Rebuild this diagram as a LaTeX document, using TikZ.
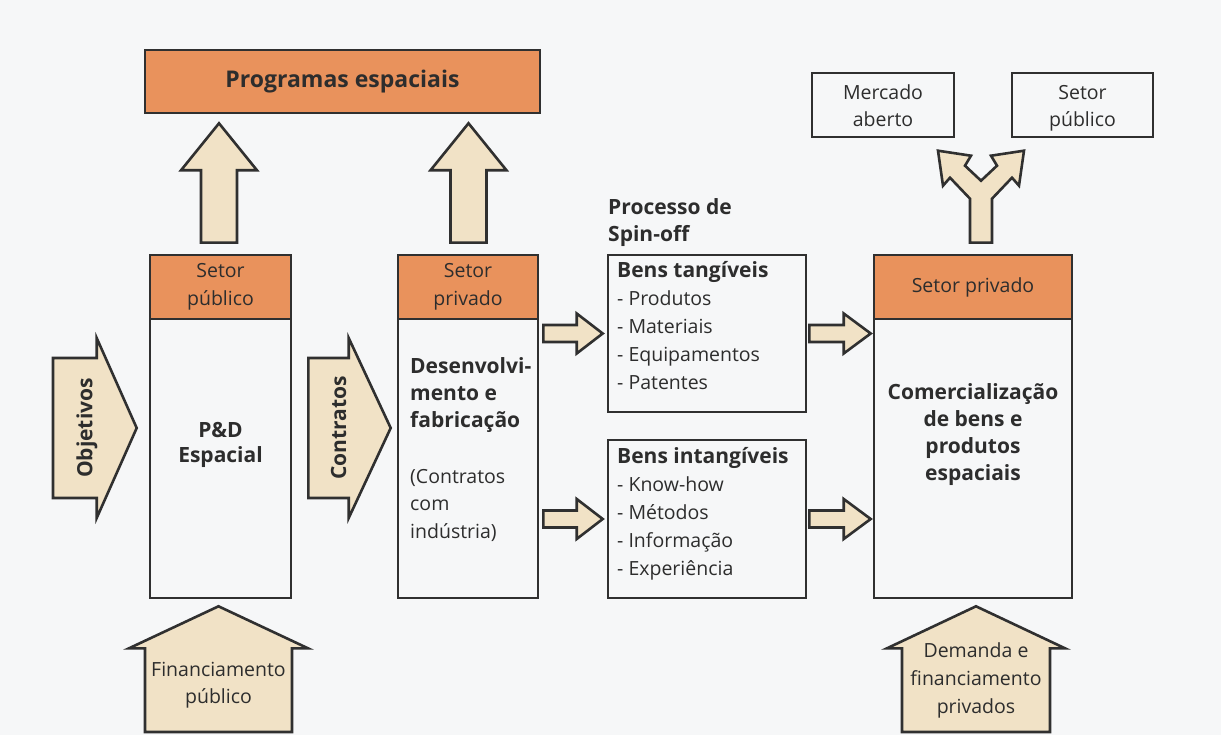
\documentclass[tikz,border=0pt]{standalone}
\usepackage{fontspec}
\setmainfont{Open Sans}
\usetikzlibrary{calc}

\definecolor{hdr}{RGB}{233,146,92}
\definecolor{pale}{RGB}{241,226,198}
\definecolor{ink}{RGB}{45,45,45}
\definecolor{edge}{RGB}{48,48,48}
\definecolor{paper}{RGB}{246,247,248}

\newcommand\txtreg{\fontsize{19.5}{28}\selectfont}
\newcommand\txtbold{\fontsize{21}{27}\selectfont\bfseries}
\newcommand\txtbig{\fontsize{23}{28}\selectfont\bfseries}

\tikzset{
  frame/.style={draw=edge, line width=2.6pt, inner sep=0pt, text=ink},
  boxw/.style={frame, fill=paper},
  boxo/.style={frame, fill=hdr},
  fat/.style={draw=edge, line width=2.6pt, fill=pale, line join=miter},
  % fat arrow pointing right: shaft half width, head half width, head length
  fatR/.style n args={3}{to path={let \p1=(\tikztostart), \p2=(\tikztotarget) in
    (\x1,\y1+#1) -- (\x2-#3,\y1+#1) -- (\x2-#3,\y1+#2) -- (\x2,\y1)
    -- (\x2-#3,\y1-#2) -- (\x2-#3,\y1-#1) -- (\x1,\y1-#1) -- cycle}},
  % fat arrow pointing up: shaft half width, head half width, head length
  fatU/.style n args={3}{to path={let \p1=(\tikztostart), \p2=(\tikztotarget) in
    (\x1-#1,\y1) -- (\x1-#1,\y2-#3) -- (\x1-#2,\y2-#3) -- (\x1,\y2)
    -- (\x1+#2,\y2-#3) -- (\x1+#1,\y2-#3) -- (\x1+#1,\y1) -- cycle}},
  lbl/.style={text=ink, inner sep=0pt},
}

\begin{document}
\begin{tikzpicture}[x=1pt,y=-1pt]
\useasboundingbox (0,0) rectangle (1221,735);
\fill[paper] (0,0) rectangle (1221,735);

% top bar
\node[boxo, minimum width=395pt, minimum height=63pt, font=\txtbig] (prog) at (342.5,81.5) {Programas espaciais};

% public R&D column
\node[boxw, minimum width=141pt, minimum height=281pt] (pdb) at (220.5,457.5) {};
\node[boxo, minimum width=141pt, minimum height=64pt, align=center, font=\txtreg] (pdh) at (220.5,287) {Setor\\público};
% multi-line labels below are anchored on the baseline of their last line
\node[lbl, font=\fontsize{21}{25}\selectfont\bfseries, align=center, anchor=base] (pdt) at (220.5,462) {P\&D\\Espacial};

% development column
\node[boxw, minimum width=140pt, minimum height=281pt] (devb) at (468,457.5) {};
\node[boxo, minimum width=140pt, minimum height=64pt, align=center, font=\txtreg] (devh) at (468,287) {Setor\\privado};
\node[lbl, font=\txtbold, align=left, anchor=base west] (devt) at (410,427) {Desenvolvi-\\mento e\\fabricação};
\node[lbl, font=\fontsize{19.5}{27.5}\selectfont, align=left, anchor=base west] (devn) at (410,538) {(Contratos\\com\\indústria)};

% spin-off
\node[lbl, font=\txtbold, align=left, anchor=base west] (spin) at (608,242) {Processo de\\Spin-off};
\node[boxw, minimum width=198pt, minimum height=157pt] (tang) at (707,333.5) {};
\node[lbl, font=\txtreg, align=left, anchor=base west] (tangt) at (617,389)
  {\txtbold Bens tangíveis\\- Produtos\\- Materiais\\- Equipamentos\\- Patentes};
\node[boxw, minimum width=198pt, minimum height=158pt] (intang) at (707,519) {};
\node[lbl, font=\txtreg, align=left, anchor=base west] (intangt) at (617,575)
  {\txtbold Bens intangíveis\\- Know-how\\- Métodos\\- Informação\\- Experiência};

% commercial column
\node[boxw, minimum width=198pt, minimum height=281pt] (comb) at (973,457.5) {};
\node[boxo, minimum width=198pt, minimum height=64pt, font=\txtreg] (comh) at (973,287) {Setor privado};
\node[lbl, font=\fontsize{21}{26.7}\selectfont\bfseries, align=center, anchor=base] (comt) at (973,480) {Comercialização\\de bens e\\produtos\\espaciais};

% destinations
\node[boxw, minimum width=142pt, minimum height=64pt] (merc) at (883,105) {};
\node[lbl, font=\fontsize{19.5}{27}\selectfont, align=center, anchor=base] (merct) at (883,127) {Mercado\\aberto};
\node[boxw, minimum width=141pt, minimum height=64pt] (spub) at (1082.5,105) {};
\node[lbl, font=\fontsize{19.5}{27}\selectfont, align=center, anchor=base] (spubt) at (1082.5,127) {Setor\\público};

% up arrows into the programmes bar
\draw[fat, fatU={18pt}{38pt}{47pt}] ($(pdh.north)+(-1.5,-11)$) to ($(pdh.north |- prog.south)+(-1.5,9)$);
\draw[fat, fatU={18pt}{38pt}{47pt}] ($(devh.north)+(0.5,-11)$) to ($(devh.north |- prog.south)+(0.5,9)$);

% inputs from the left
\coordinate (objs) at (53,428);
\draw[fat, fatR={70pt}{90pt}{40pt}] (objs) to ($(pdb.west)+(-12,-29.5)$);
\node[lbl, rotate=90, font=\txtbold] (objt) at (87,428) {Objetivos};
\draw[fat, fatR={70pt}{90pt}{42pt}] ($(pdb.east)+(16,-29.5)$) to ($(devb.west)+(-6,-29.5)$);
\node[lbl, rotate=90, font=\txtbold] (cont) at (338.5,428) {Contratos};

% spin-off arrows
\draw[fat, fatR={8.5pt}{20pt}{26pt}] ($(tang.west -| devb.east)+(4,0)$) to ($(tang.west)+(-4,0)$);
\draw[fat, fatR={8.5pt}{20pt}{26pt}] ($(intang.west -| devb.east)+(4,0)$) to ($(intang.west)+(-4,0)$);
\draw[fat, fatR={8.5pt}{20pt}{27pt}] ($(tang.east)+(2,0)$) to ($(tang.east -| comb.west)+(-2,0)$);
\draw[fat, fatR={8.5pt}{20pt}{27pt}] ($(intang.east)+(2,0)$) to ($(intang.east -| comb.west)+(-2,0)$);

% funding arrows from below
\coordinate (fpub) at (218.5,732);
\draw[fat, fatU={73.5pt}{89.5pt}{42pt}] (fpub) to ($(pdb.south)+(-2,7)$);
\node[lbl, font=\fontsize{19.5}{27}\selectfont, align=center, anchor=base] (fpubt) at (218.5,703) {Financiamento\\público};
\coordinate (fpriv) at (976,732);
\draw[fat, fatU={74pt}{89pt}{42pt}] (fpriv) to ($(comb.south)+(3,7)$);
\node[lbl, font=\txtreg, align=center, anchor=base] (fprivt) at (976,713) {Demanda e\\financiamento\\privados};

% split arrow towards the two markets
\coordinate (ysplit) at ($(comh.north)+(8,-11)$);
\begin{scope}[shift={(ysplit)}]
\draw[fat] (-11,0) -- (-11,-44) -- (-31,-65) -- (-38,-57) -- (-43,-92) -- (-10,-87)
  -- (-16,-77) -- (0,-62) -- (16,-77) -- (10,-87) -- (43,-92) -- (38,-57)
  -- (31,-65) -- (11,-44) -- (11,0) -- cycle;
\end{scope}
\end{tikzpicture}
\end{document}
